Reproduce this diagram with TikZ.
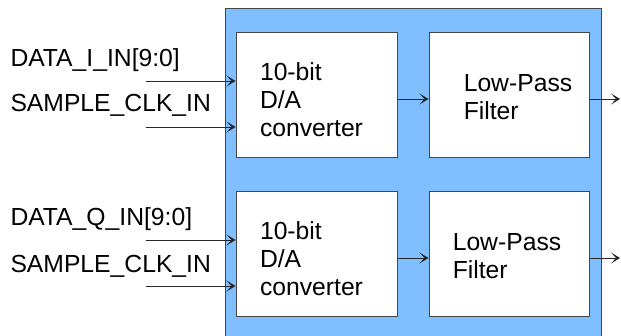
\documentclass[tikz,border=0pt]{standalone}
\usepackage{fontspec}
\setmainfont{Liberation Sans}
\usetikzlibrary{arrows.meta}
\definecolor{panelblue}{RGB}{128,191,255}
\definecolor{edgegray}{RGB}{70,70,70}

\begin{document}
\begin{tikzpicture}[x=1pt, y=-1pt, line width=1pt,
    block/.style={draw=edgegray, fill=white, minimum width=161pt, minimum height=125pt, inner sep=0pt},
    blocktext/.style={inner sep=0pt, align=left, font=\fontsize{24.7}{28}\selectfont},
    sig/.style={anchor=base west, inner sep=0pt, font=\fontsize{24.7}{28}\selectfont},
    flow/.style={draw=black!85, -{Stealth[length=9pt, width=11pt, inset=5pt]}}]
    \useasboundingbox (0,0) rectangle (621,335);

    % Draw the blue panel (runs off the bottom edge)
    \fill[panelblue] (225,8) rectangle (601,345);
    \draw[edgegray] (225,345) -- (225,8) -- (601,8) -- (601,345);

    % Converter and filter blocks, I channel
    \node[block] (dacI) at (316.5,94.5) {};
    \node[block, minimum width=160pt] (lpfI) at (509,94.5) {};
    \node[blocktext] (dacItxt) at ([xshift=-5pt, yshift=-5pt]dacI.center) {10-bit\\D/A\\converter};
    \node[blocktext] (lpfItxt) at ([xshift=9pt, yshift=-2.5pt]lpfI.center) {Low-Pass\\Filter};

    % Converter and filter blocks, Q channel
    \node[block] (dacQ) at (316.5,253.5) {};
    \node[block, minimum width=160pt] (lpfQ) at (509,253.5) {};
    \node[blocktext] (dacQtxt) at ([xshift=-5pt, yshift=-5pt]dacQ.center) {10-bit\\D/A\\converter};
    \node[blocktext] (lpfQtxt) at ([xshift=-2pt, yshift=-2.5pt]lpfQ.center) {Low-Pass\\Filter};

    % Input signal names
    \node[sig] (dataI) at (10,66) {DATA\_I\_IN[9:0]};
    \node[sig] (clkI) at (10,111) {SAMPLE\_CLK\_IN};
    \node[sig] (dataQ) at (10,225) {DATA\_Q\_IN[9:0]};
    \node[sig] (clkQ) at (10,272) {SAMPLE\_CLK\_IN};

    % Input wires
    \coordinate (dI) at (146,81);
    \coordinate (cI) at (146,127);
    \coordinate (dQ) at (146,240);
    \coordinate (cQ) at (146,286);
    \draw[flow] (dI) -- (dI -| dacI.west);
    \draw[flow] (cI) -- (cI -| dacI.west);
    \draw[flow] (dQ) -- (dQ -| dacQ.west);
    \draw[flow] (cQ) -- (cQ -| dacQ.west);

    % Converter to filter
    \draw[flow] ([yshift=-4.5pt]dacI.east) -- ([yshift=-4.5pt]lpfI.west);
    \draw[flow] ([yshift=-4.5pt]dacQ.east) -- ([yshift=-4.5pt]lpfQ.west);

    % Outputs
    \coordinate (oI) at (620,99);
    \coordinate (oQ) at (620,258);
    \draw[flow] (oI -| lpfI.east) -- (oI);
    \draw[flow] (oQ -| lpfQ.east) -- (oQ);
\end{tikzpicture}
\end{document}
